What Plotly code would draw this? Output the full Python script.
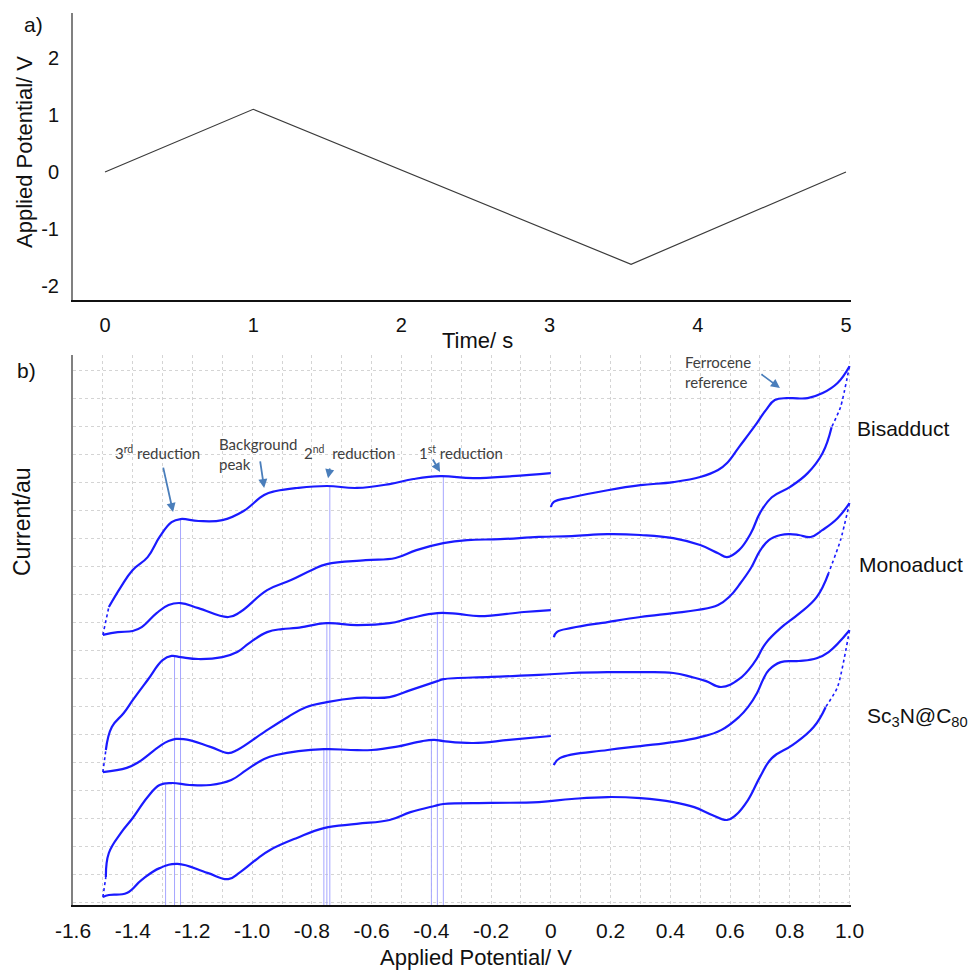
import plotly.graph_objects as go

# ---------------- Panel a: applied potential waveform ----------------
TIME_S = [0.0, 1.0, 3.55, 5.0]
APPLIED_V = [0.0, 1.1, -1.62, 0.0]
TIME_TICKS = [0, 1, 2, 3, 4, 5]
POT_TICKS_A = [-2, -1, 0, 1, 2]
POT_TICK_TEXT_A = ["-2", "-1", "0", "1", "2"]

# ---------------- Panel b: cyclic voltammograms ----------------
CV_TICKS = [-1.6, -1.4, -1.2, -1.0, -0.8, -0.6, -0.4, -0.2, 0.0, 0.2, 0.4, 0.6, 0.8, 1.0]
CV_TICK_TEXT = ["-1.6", "-1.4", "-1.2", "-1.0", "-0.8", "-0.6", "-0.4", "-0.2", "0",
                "0.2", "0.4", "0.6", "0.8", "1.0"]
SAMPLES = ["Bisadduct", "Monoaduct", "Sc<sub>3</sub>N@C<sub>80</sub>"]

# Bisadduct: forward (0 -> 1.0 V), reverse (1.0 -> -1.5 V), return (-1.5 -> 0 V)
BIS_FWD_X = [0.00, 0.01, 0.07, 0.19, 0.30, 0.41, 0.50, 0.56, 0.59, 0.63, 0.68, 0.72, 0.75, 0.79, 0.81, 0.86, 0.91, 0.96, 1.00]
BIS_FWD_Y = [14.11, 14.29, 14.46, 14.71, 14.89, 15.00, 15.18, 15.43, 15.68, 16.25, 16.96, 17.57, 17.93, 18.00, 18.00, 18.00, 18.18, 18.54, 19.14]
BIS_REV_X = [1.00, 0.97, 0.94, 0.91, 0.86, 0.80, 0.74, 0.70, 0.67, 0.63, 0.59, 0.56, 0.50, 0.41, 0.30, 0.19, 0.07, -0.04, -0.17, -0.28,
             -0.36, -0.45, -0.52, -0.62, -0.75, -0.80, -0.87, -0.95, -1.04, -1.08, -1.18, -1.24, -1.28, -1.32, -1.37, -1.40, -1.45, -1.50]
BIS_REV_Y = [19.14, 17.68, 16.96, 16.04, 15.32, 14.82, 14.46, 13.89, 13.18, 12.57, 12.32, 12.46, 12.75, 13.00, 13.11, 13.14, 13.07, 13.04, 12.96, 12.93,
             12.82, 12.57, 12.29, 12.21, 12.07, 11.86, 11.50, 11.14, 10.36, 10.18, 10.50, 10.68, 10.61, 10.32, 9.82, 9.68, 9.64, 9.54]
BIS_RET_X = [-1.50, -1.48, -1.44, -1.40, -1.35, -1.31, -1.27, -1.24, -1.18, -1.10, -1.03, -0.96, -0.92, -0.85, -0.75, -0.65, -0.54, -0.46, -0.37, -0.26, -0.13, 0.00]
BIS_RET_Y = [9.54, 10.54, 11.25, 11.86, 12.32, 13.04, 13.57, 13.68, 13.61, 13.64, 13.96, 14.54, 14.68, 14.79, 14.86, 14.79, 14.93, 15.11, 15.21, 15.14, 15.21, 15.32]

# Monoadduct
MONO_FWD_X = [0.01, 0.02, 0.07, 0.19, 0.30, 0.41, 0.49, 0.56, 0.60, 0.63, 0.67, 0.70, 0.73, 0.77, 0.80, 0.83, 0.87, 0.91, 0.96, 1.00]
MONO_FWD_Y = [9.46, 9.64, 9.79, 10.00, 10.18, 10.32, 10.43, 10.61, 10.93, 11.32, 11.93, 12.54, 12.93, 13.11, 13.14, 13.11, 13.04, 13.29, 13.71, 14.25]
MONO_REV_X = [1.00, 0.97, 0.93, 0.89, 0.83, 0.77, 0.72, 0.68, 0.63, 0.57, 0.52, 0.47, 0.41, 0.30, 0.19, 0.07, -0.04, -0.20, -0.36, -0.38,
              -0.47, -0.54, -0.65, -0.75, -0.82, -0.88, -0.96, -1.05, -1.08, -1.14, -1.23, -1.28, -1.38, -1.42, -1.50]
MONO_REV_Y = [14.25, 12.93, 11.75, 10.89, 10.29, 9.79, 9.25, 8.54, 7.96, 7.68, 7.89, 8.04, 8.18, 8.21, 8.21, 8.18, 8.11, 8.04, 7.96, 7.89,
              7.57, 7.32, 7.29, 7.14, 6.96, 6.61, 6.07, 5.43, 5.32, 5.54, 5.82, 5.75, 5.00, 4.79, 4.64]
MONO_RET_X = [-1.50, -1.49, -1.47, -1.43, -1.40, -1.35, -1.30, -1.27, -1.24, -1.18, -1.10, -1.05, -1.01, -0.95, -0.90, -0.85, -0.75, -0.65, -0.54, -0.47,
              -0.38, -0.31, -0.24, -0.09, 0.00]
MONO_RET_Y = [4.64, 5.43, 6.25, 6.75, 7.21, 7.93, 8.64, 8.79, 8.75, 8.68, 8.75, 8.93, 9.25, 9.64, 9.75, 9.79, 9.96, 9.89, 9.96, 10.14,
              10.32, 10.29, 10.21, 10.36, 10.43]

# Sc3N@C80
SC_FWD_X = [0.01, 0.03, 0.19, 0.30, 0.41, 0.50, 0.57, 0.63, 0.66, 0.69, 0.71, 0.73, 0.77, 0.83, 0.89, 0.93, 1.00]
SC_FWD_Y = [4.89, 5.14, 5.43, 5.57, 5.71, 5.89, 6.14, 6.61, 6.96, 7.46, 7.93, 8.29, 8.57, 8.61, 8.71, 8.93, 9.71]
SC_REV_X = [1.00, 0.96, 0.92, 0.88, 0.81, 0.74, 0.70, 0.66, 0.62, 0.59, 0.54, 0.48, 0.41, 0.30, 0.19, 0.07, -0.04, -0.20, -0.36, -0.39,
            -0.47, -0.54, -0.65, -0.76, -0.85, -0.94, -0.98, -1.04, -1.08, -1.15, -1.25, -1.31, -1.37, -1.42, -1.48, -1.50]
SC_REV_Y = [9.71, 7.68, 6.96, 6.25, 5.61, 5.14, 4.46, 3.64, 3.11, 2.93, 3.11, 3.39, 3.57, 3.71, 3.75, 3.68, 3.57, 3.54, 3.50, 3.43,
            3.21, 2.93, 2.79, 2.64, 2.29, 1.86, 1.57, 1.07, 0.82, 1.04, 1.36, 1.21, 0.79, 0.32, 0.25, 0.18]
SC_RET_X = [-1.50, -1.49, -1.48, -1.44, -1.40, -1.35, -1.31, -1.27, -1.21, -1.14, -1.07, -1.02, -0.96, -0.92, -0.76, -0.67, -0.60, -0.52, -0.43, -0.39,
            -0.36, -0.26, -0.14, 0.00]
SC_RET_Y = [0.18, 0.89, 1.75, 2.46, 3.00, 3.75, 4.18, 4.25, 4.18, 4.18, 4.36, 4.71, 5.11, 5.25, 5.46, 5.43, 5.43, 5.54, 5.75, 5.79,
            5.75, 5.68, 5.79, 5.93]

# Reduction peak markers (3rd, 2nd, 1st) on the return sweep of each sample
BIS_PEAK_X = [-1.24, -0.74, -0.36]
BIS_PEAK_Y = [13.68, 14.86, 15.21]
MONO_PEAK_X = [-1.26, -0.75, -0.38]
MONO_PEAK_Y = [8.79, 9.96, 10.32]
SC_PEAK_X = [-1.29, -0.76, -0.40]
SC_PEAK_Y = [4.18, 5.46, 5.79]

# ---------------- Figure ----------------
W, H = 974, 970
BLUE = "#1a1aff"
PEAK_BLUE = "#a6a6ff"
GRID = "#d4d4d4"
ARROW = "#4a7ebb"
NOTE = "#404040"
Y2_RANGE = [-0.107, 19.54]
XD = [73 / W, 851 / W]

fig = go.Figure()

fig.add_trace(go.Scatter(x=TIME_S, y=APPLIED_V, mode="lines",
                         line=dict(color="#3a3a3a", width=1.2),
                         xaxis="x", yaxis="y", showlegend=False, hoverinfo="skip"))

for pxs, pys in [(BIS_PEAK_X, BIS_PEAK_Y), (MONO_PEAK_X, MONO_PEAK_Y), (SC_PEAK_X, SC_PEAK_Y)]:
    xs, ys = [], []
    for x, y in zip(pxs, pys):
        xs += [x, x, None]
        ys += [y, Y2_RANGE[0], None]
    fig.add_trace(go.Scatter(x=xs, y=ys, mode="lines", line=dict(color=PEAK_BLUE, width=1),
                             xaxis="x2", yaxis="y2", showlegend=False, hoverinfo="skip"))


def add_sweep(x, y, n_dot=0):
    if n_dot:
        fig.add_trace(go.Scatter(x=x[:n_dot], y=y[:n_dot], mode="lines",
                                 line=dict(color=BLUE, width=1.6, dash="dot", shape="spline", smoothing=0.6),
                                 xaxis="x2", yaxis="y2", showlegend=False, hoverinfo="skip"))
        x, y = x[n_dot - 1:], y[n_dot - 1:]
    fig.add_trace(go.Scatter(x=x, y=y, mode="lines",
                             line=dict(color=BLUE, width=2.2, shape="spline", smoothing=1.2),
                             xaxis="x2", yaxis="y2", showlegend=False, hoverinfo="skip"))


for fx, fy, rx, ry, tx, ty in [
    (BIS_FWD_X, BIS_FWD_Y, BIS_REV_X, BIS_REV_Y, BIS_RET_X, BIS_RET_Y),
    (MONO_FWD_X, MONO_FWD_Y, MONO_REV_X, MONO_REV_Y, MONO_RET_X, MONO_RET_Y),
    (SC_FWD_X, SC_FWD_Y, SC_REV_X, SC_REV_Y, SC_RET_X, SC_RET_Y),
]:
    add_sweep(fx, fy)
    add_sweep(rx, ry, 3)
    add_sweep(tx, ty, 2)

AX_FONT = "Liberation Sans, Arial, sans-serif"
fig.update_layout(
    width=W, height=H, margin=dict(l=0, r=0, t=0, b=0, autoexpand=False),
    paper_bgcolor="white", plot_bgcolor="white", showlegend=False,
    font=dict(family=AX_FONT, color="#111111"),
    xaxis=dict(domain=XD, anchor="y", range=[-0.216, 5.034], tickvals=TIME_TICKS, automargin=False,
               showgrid=False, zeroline=False, showline=True, linecolor="#111111", linewidth=1.5,
               ticks="", ticklabelstandoff=6, tickfont=dict(size=20)),
    yaxis=dict(domain=[1 - 300 / H, 1 - 13 / H], anchor="x", range=[-2.246, 2.79], automargin=False,
               tickvals=POT_TICKS_A, ticktext=POT_TICK_TEXT_A,
               showgrid=False, zeroline=False, showline=True, linecolor="#808080", linewidth=2,
               ticks="", ticklabelstandoff=8, tickfont=dict(size=20)),
    xaxis2=dict(domain=XD, anchor="y2", range=[-1.6, 1.005], tickvals=CV_TICKS, ticktext=CV_TICK_TEXT,
                automargin=False,
                showgrid=True, gridcolor=GRID, griddash="dot", gridwidth=1,
                minor=dict(dtick=0.1, tick0=-1.6, showgrid=True, gridcolor=GRID, griddash="dot", gridwidth=1),
                zeroline=False, showline=True, linecolor="#111111", linewidth=1.5,
                ticks="", ticklabelstandoff=6, tickfont=dict(size=21)),
    yaxis2=dict(domain=[1 - 905 / H, 1 - 355 / H], anchor="x2", range=Y2_RANGE, tick0=0, dtick=1,
                automargin=False,
                showticklabels=False, showgrid=True, gridcolor=GRID, griddash="dot", gridwidth=1,
                zeroline=False, showline=True, linecolor="#808080", linewidth=2, ticks=""),
)

ann = []


def paper_text(text, px, py, size, anchor="center", angle=0):
    ann.append(dict(text=text, x=px / W, y=1 - py / H, xref="paper", yref="paper",
                    xanchor=anchor, yanchor="middle", showarrow=False, textangle=angle,
                    font=dict(family=AX_FONT, size=size, color="#111111")))


paper_text("a)", 22, 24, 21, "left")
paper_text("b)", 15, 370, 21, "left")
paper_text("Time/ s", 477, 340, 22)
paper_text("Applied Potential/ V", 24, 152, 22, angle=-90)
paper_text("Current/au", 22, 522, 23, angle=-90)
paper_text("Applied Potential/ V", 476, 957, 22)
paper_text(SAMPLES[0], 855, 428, 21, "left")
paper_text(SAMPLES[1], 857, 564, 21, "left")
paper_text(SAMPLES[2], 865, 717, 21, "left")

NOTE_FONT = dict(family="Lato, Carlito, Calibri, sans-serif", size=15, color=NOTE)
for text, x, y in [
    ("3<sup>rd</sup> reduction", -1.466, 16.04),
    ("Background<br>peak", -1.118, 16.0),
    ("2<sup>nd</sup>\u00a0 reduction", -0.833, 16.04),
    ("1<sup>st</sup> reduction", -0.448, 16.04),
    ("Ferrocene<br>reference", 0.443, 18.93),
]:
    ann.append(dict(text=text, x=x, y=y, xref="x2", yref="y2", xanchor="left", yanchor="middle",
                    align="left", showarrow=False, font=NOTE_FONT))

for hx, hy, tx, ty in [
    (-1.265, 13.93, -1.299, 15.57),
    (-0.960, 14.79, -0.974, 15.79),
    (-0.746, 15.14, -0.739, 15.54),
    (-0.371, 15.36, -0.398, 15.86),
    (0.767, 18.36, 0.700, 18.89),
]:
    ann.append(dict(text="", x=hx, y=hy, ax=tx, ay=ty, xref="x2", yref="y2", axref="x2", ayref="y2",
                    showarrow=True, arrowhead=2, arrowsize=1, arrowwidth=1.8, arrowcolor=ARROW, standoff=0))

fig.update_layout(annotations=ann)
fig.write_html("out.html")
